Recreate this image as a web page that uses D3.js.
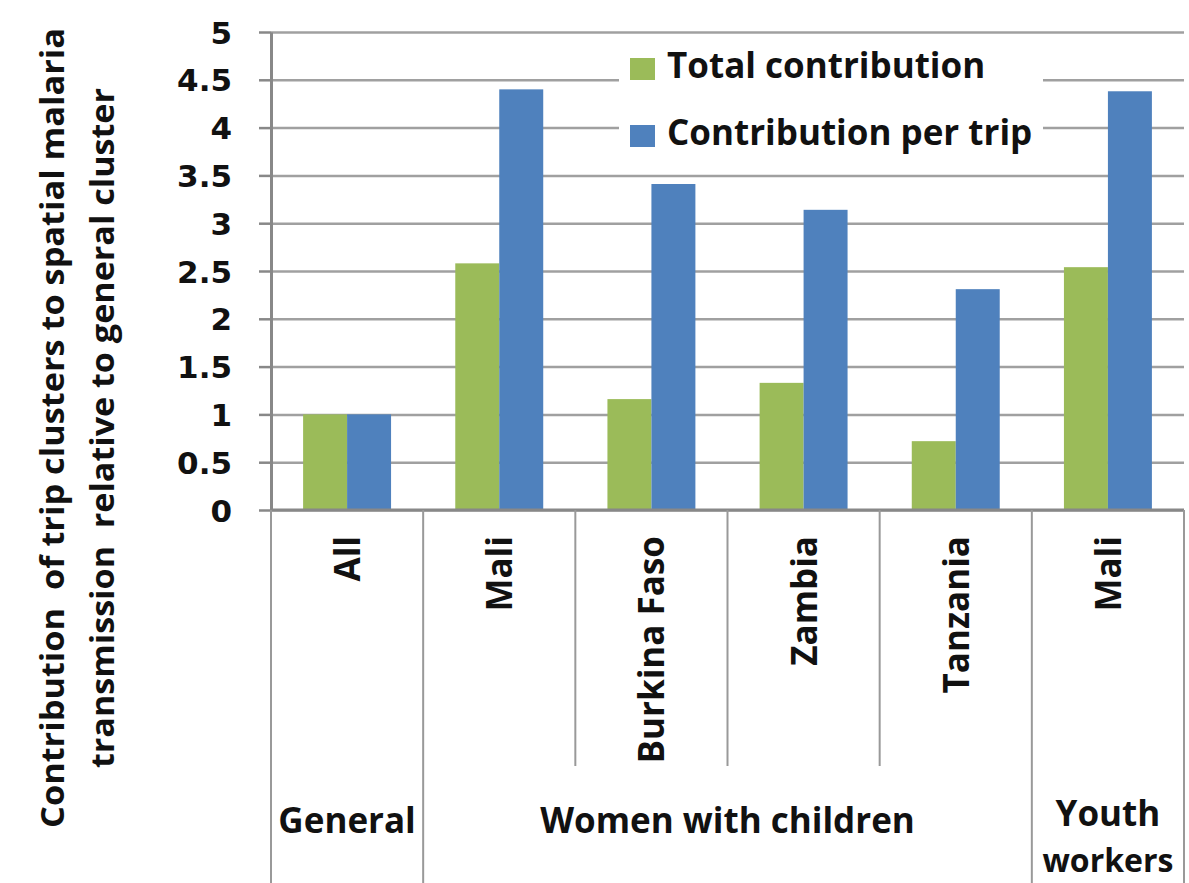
<!DOCTYPE html>
<html>
<head>
<meta charset="utf-8">
<script src="https://cdn.jsdelivr.net/npm/d3@7"></script>
<style>
  body { margin: 0; background: #fff; }
  text { font-family: "Open Sans", sans-serif; font-weight: bold; fill: #111; }
</style>
</head>
<body>
<svg id="chart" width="1189" height="883"></svg>
<script>
/* ---------- data ---------- */
const categories = ["All", "Mali", "Burkina Faso", "Zambia", "Tanzania", "Mali"];
const seriesNames = ["Total contribution", "Contribution per trip"];
const totalContribution = [1.0, 2.58, 1.16, 1.33, 0.72, 2.54];
const perTrip = [1.0, 4.40, 3.41, 3.14, 2.31, 4.38];
const yTicks = [0, 0.5, 1, 1.5, 2, 2.5, 3, 3.5, 4, 4.5, 5];
const groupLabels = [["General"], ["Women with children"], ["Youth", "workers"]];
const groupSpans = [[0, 1], [1, 5], [5, 6]];   // category index ranges
const yTitle = ["Contribution  of trip clusters to spatial malaria",
                "transmission  relative to general cluster"];
const colors = ["#9BBB59", "#4F81BD"];

/* ---------- layout ---------- */
const svg = d3.select("#chart");
const plotL = 271, plotR = 1184, plotT = 32, plotB = 510;
const gridColor = "#a0a0a0";

const x = d3.scaleBand().domain(d3.range(categories.length)).range([plotL, plotR]).padding(0);
const xs = d3.scaleBand().domain(seriesNames).range([0, x.bandwidth()])
  .paddingInner(0).paddingOuter(0.73);
const y = d3.scaleLinear().domain([0, 5]).range([plotB, plotT]);
const edge = i => (i < categories.length ? x(i) : plotR);

/* gridlines */
svg.append("g").attr("transform", `translate(${plotL},0)`)
  .call(d3.axisLeft(y).tickValues(yTicks).tickSize(-(plotR - plotL)).tickFormat(""))
  .call(g => g.select(".domain").remove())
  .call(g => g.selectAll("line").attr("stroke", gridColor).attr("stroke-width", 2.5));

/* y axis with outward ticks + labels */
svg.append("g").attr("transform", `translate(${plotL},0)`)
  .call(d3.axisLeft(y).tickValues(yTicks).tickSize(12).tickPadding(27).tickSizeOuter(0)
    .tickFormat(d3.format("~g")))
  .call(g => g.select(".domain").attr("stroke", "#888").attr("stroke-width", 3))
  .call(g => g.selectAll("line").attr("stroke", "#888").attr("stroke-width", 2.5))
  .call(g => g.selectAll("text").attr("font-size", 31).attr("dy", "0.36em")
    .attr("fill", "#111").style("font-family", "'DejaVu Sans', sans-serif"));

/* bars */
const series = [totalContribution, perTrip];
seriesNames.forEach((name, s) => {
  svg.append("g").selectAll("rect").data(series[s]).join("rect")
    .attr("x", (d, i) => x(i) + xs(name))
    .attr("width", xs.bandwidth())
    .attr("y", d => y(d))
    .attr("height", d => plotB - y(d))
    .attr("fill", colors[s]);
});

/* x axis line */
svg.append("line").attr("x1", plotL).attr("x2", plotR).attr("y1", plotB).attr("y2", plotB)
  .attr("stroke", "#888").attr("stroke-width", 3);

/* category separators */
const groupEdges = new Set(groupSpans.flat());
d3.range(categories.length + 1).forEach(i => {
  svg.append("line").attr("x1", edge(i)).attr("x2", edge(i)).attr("y1", plotB)
    .attr("y2", groupEdges.has(i) ? 883 : 766)
    .attr("stroke", "#999").attr("stroke-width", 2);
});

/* category labels (rotated) */
svg.append("g").selectAll("text").data(categories).join("text")
  .attr("transform", (d, i) => `translate(${x(i) + x.bandwidth() / 2 + 13},536) rotate(-90)`)
  .attr("text-anchor", "end")
  .attr("font-size", 35)
  .text(d => d);

/* group labels */
groupLabels.forEach((lines, gi) => {
  const [a, b] = groupSpans[gi];
  const cx = (edge(a) + edge(b)) / 2;
  lines.forEach((t, li) => {
    svg.append("text").attr("x", cx).attr("y", li ? 872 : (lines.length > 1 ? 826 : 833))
      .attr("text-anchor", "middle").attr("font-size", li ? 32 : 35).text(t);
  });
});

/* y title */
const titleLen = [800, 680];
yTitle.forEach((t, li) => {
  svg.append("text")
    .attr("xml:space", "preserve").style("white-space", "pre")
    .attr("transform", `translate(${64 + li * 50},428) rotate(-90)`)
    .attr("text-anchor", "middle").attr("font-size", 32)
    .attr("textLength", titleLen[li]).attr("lengthAdjust", "spacingAndGlyphs")
    .text(t);
});

/* legend */
const legend = svg.append("g");
legend.append("rect").attr("x", 619).attr("y", 46).attr("width", 424).attr("height", 118)
  .attr("fill", "#fff");
seriesNames.forEach((name, s) => {
  const base = 78 + s * 67;
  legend.append("rect").attr("x", 630).attr("y", base - 20).attr("width", 25).attr("height", 22)
    .attr("fill", colors[s]);
  legend.append("text").attr("x", 667).attr("y", base)
    .attr("font-size", 35).text(name);
});
</script>
</body>
</html>
